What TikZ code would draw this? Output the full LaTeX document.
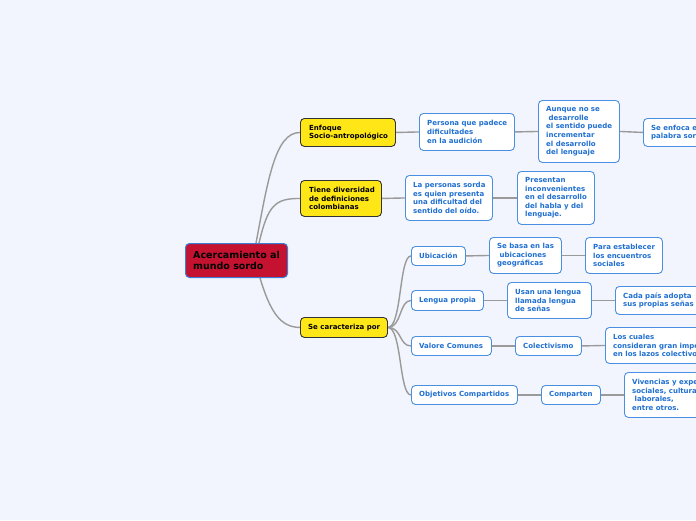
\documentclass[tikz,border=0pt]{standalone}
\usepackage{fontspec}
\setmainfont{DejaVu Sans}
\definecolor{bg}{HTML}{F2F5FD}
\definecolor{rootred}{HTML}{C41230}
\definecolor{rootborder}{HTML}{3A7FD5}
\definecolor{yel}{HTML}{FFE617}
\definecolor{ydark}{HTML}{333333}
\definecolor{boxblue}{HTML}{4A90E2}
\definecolor{txtblue}{HTML}{1F6FD1}
\definecolor{linegray}{HTML}{9A9A9A}
\pgfdeclarelayer{back}
\pgfdeclarelayer{lines}
\pgfsetlayers{back,lines,main}
\tikzset{
  boxbase/.style={rectangle, rounded corners=4pt, anchor=north west, inner sep=0pt},
  wbox/.style={boxbase, draw=boxblue, fill=white, line width=0.9pt},
  ybox/.style={boxbase, draw=ydark, fill=yel, line width=0.9pt},
  rbox/.style={boxbase, draw=rootborder, fill=rootred, line width=1pt},
  wtext/.style={anchor=west, align=left, inner sep=0pt, text=txtblue, font=\fontsize{7}{8.6}\selectfont\bfseries},
  ytext/.style={anchor=west, align=left, inner sep=0pt, text=black, font=\fontsize{7}{8.6}\selectfont\bfseries},
  rtext/.style={anchor=west, align=left, inner sep=0pt, text=black, font=\fontsize{9.5}{10.5}\selectfont\bfseries},
  conn/.style={draw=linegray, line width=1.4pt},
}
\begin{document}
\begin{tikzpicture}[x=1pt,y=-1pt]
\useasboundingbox (0,0) rectangle (696,520);
\clip (0,0) rectangle (696,520);
\begin{pgfonlayer}{back}
\fill[bg] (0,0) rectangle (696,520);
\end{pgfonlayer}

% root
\node[rbox, minimum width=102pt, minimum height=34pt] (root) at (185,243) {};
\node[rtext] (roott) at ([xshift=8pt]root.west) {Acercamiento al\\mundo sordo};

% level 1
\node[ybox, minimum width=95pt, minimum height=28pt] (en) at (300,118) {};
\node[ytext] (ent) at ([xshift=9pt]en.west) {Enfoque\\Socio-antropológico};
\node[ybox, minimum width=81pt, minimum height=36pt] (ti) at (300,180) {};
\node[ytext] (tit) at ([xshift=9pt]ti.west) {Tiene diversidad\\de definiciones\\colombianas};
\node[ybox, minimum width=87pt, minimum height=20pt] (se) at (300,317) {};
\node[ytext] (set) at ([xshift=8pt]se.west) {Se caracteriza por};

% branch 1
\node[wbox, minimum width=95pt, minimum height=37pt] (p1) at (419,113) {};
\node[wtext] (p1t) at ([xshift=8pt]p1.west) {Persona que padece\\dificultades\\en la audición};
\node[wbox, minimum width=81pt, minimum height=62pt] (p2) at (538,100) {};
\node[wtext] (p2t) at ([xshift=8pt]p2.west) {Aunque no se\\\hspace{2.5pt}desarrolle\\el sentido puede\\incrementar\\el desarrollo\\del lenguaje};
\node[wbox, minimum width=80pt, minimum height=28pt] (p3) at (643,118) {};
\node[wtext] (p3t) at ([xshift=8pt]p3.west) {Se enfoca e\\palabra sor};

% branch 2
\node[wbox, minimum width=87pt, minimum height=45pt] (t1) at (405,175) {};
\node[wtext] (t1t) at ([xshift=8pt]t1.west) {La personas sorda\\es quien presenta\\una dificultad del\\sentido del oído.};
\node[wbox, minimum width=77pt, minimum height=53pt] (t2) at (517,171) {};
\node[wtext] (t2t) at ([xshift=8pt]t2.west) {Presentan\\inconvenientes\\en el desarrollo\\del habla y del\\lenguaje.};

% branch 3
\node[wbox, minimum width=54pt, minimum height=19pt] (u1) at (411,246) {};
\node[wtext] (u1t) at ([xshift=8pt]u1.west) {Ubicación};
\node[wbox, minimum width=72pt, minimum height=36pt] (u2) at (489,237) {};
\node[wtext] (u2t) at ([xshift=8pt]u2.west) {Se basa en las\\\hspace{2.5pt}ubicaciones\\geográficas};
\node[wbox, minimum width=77pt, minimum height=36pt] (u3) at (585,237) {};
\node[wtext] (u3t) at ([xshift=8pt]u3.west) {Para establecer\\los encuentros\\sociales};

\node[wbox, minimum width=72pt, minimum height=20pt] (l1) at (411,290) {};
\node[wtext] (l1t) at ([xshift=8pt]l1.west) {Lengua propia};
\node[wbox, minimum width=84pt, minimum height=36pt] (l2) at (507,282) {};
\node[wtext] (l2t) at ([xshift=8pt]l2.west) {Usan una lengua\\llamada lengua\\de señas};
\node[wbox, minimum width=88pt, minimum height=28pt] (l3) at (615,286) {};
\node[wtext] (l3t) at ([xshift=8pt]l3.west) {Cada país adopta\\sus propias señas};

\node[wbox, minimum width=80pt, minimum height=19pt] (v1) at (411,336) {};
\node[wtext] (v1t) at ([xshift=8pt]v1.west) {Valore Comunes};
\node[wbox, minimum width=66pt, minimum height=19pt] (v2) at (515,336) {};
\node[wtext] (v2t) at ([xshift=8pt]v2.west) {Colectivismo};
\node[wbox, minimum width=100pt, minimum height=36pt] (v3) at (605,327) {};
\node[wtext] (v3t) at ([xshift=8pt]v3.west) {Los cuales\\consideran gran impo\\en los lazos colectivo};

\node[wbox, minimum width=106pt, minimum height=19pt] (o1) at (411,385) {};
\node[wtext] (o1t) at ([xshift=8pt]o1.west) {Objetivos Compartidos};
\node[wbox, minimum width=59pt, minimum height=19pt] (o2) at (541,385) {};
\node[wtext] (o2t) at ([xshift=8pt]o2.west) {Comparten};
\node[wbox, minimum width=80pt, minimum height=45pt] (o3) at (624,372) {};
\node[wtext] (o3t) at ([xshift=8pt]o3.west) {Vivencias y expe\\sociales, cultura\\\hspace{2.5pt}laborales,\\entre otros.};

\begin{pgfonlayer}{lines}
\draw[conn] ([xshift=71pt]root.north west) .. controls +(12,-63) and +(-25,0) .. (en.west);
\draw[conn] ([xshift=74pt]root.north west) .. controls +(9,-38) and +(-25,0) .. (ti.west);
\draw[conn] ([xshift=75pt]root.south west) .. controls +(10,33) and +(-20,0) .. (se.west);
\foreach \t in {u1,l1,v1,o1}{
  \draw[conn] (se.east) .. controls +(14,0) and +(-12,0) .. (\t.west);
}
\draw[conn] (en.east) -- (p1.west);
\draw[conn] (p1.east) -- (p2.west);
\draw[conn] (p2.east) -- (p3.west);
\draw[conn] (ti.east) -- (t1.west);
\draw[conn] (t1.east) -- (t2.west);
\draw[conn] (u1.east) -- (u2.west);
\draw[conn] (u2.east) -- (u3.west);
\draw[conn] (l1.east) -- (l2.west);
\draw[conn] (l2.east) -- (l3.west);
\draw[conn] (v1.east) -- (v2.west);
\draw[conn] (v2.east) -- (v3.west);
\draw[conn] (o1.east) -- (o2.west);
\draw[conn] (o2.east) -- (o3.west);
\end{pgfonlayer}
\end{tikzpicture}
\end{document}
